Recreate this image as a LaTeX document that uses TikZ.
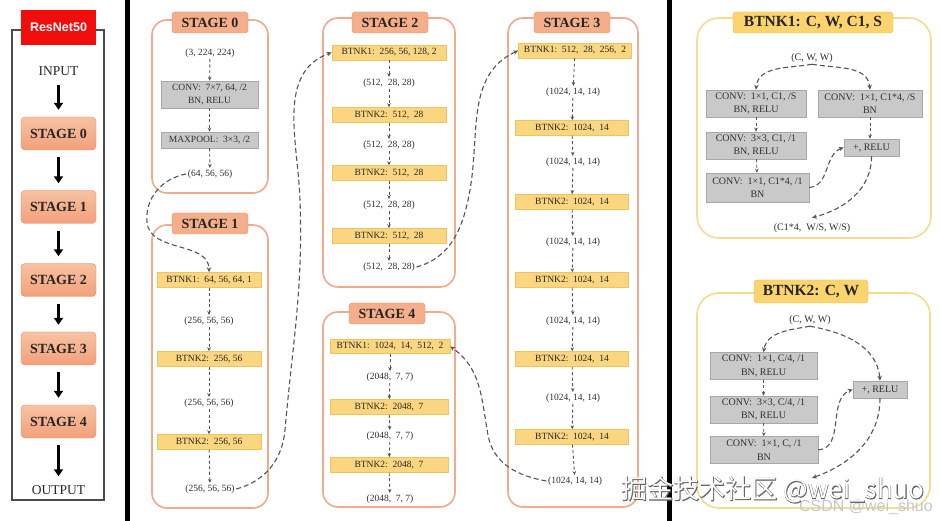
\documentclass[tikz,border=0pt]{standalone}
\usepackage{fontspec}
\setmainfont{Liberation Serif}
\newfontfamily\sansf{Liberation Sans}
\newfontfamily\cjkf{Noto Sans CJK SC}
\newfontfamily\cjkfb[FakeBold=3]{Noto Sans CJK SC}
\usetikzlibrary{arrows.meta}
\definecolor{txt}{HTML}{303030}
\definecolor{gf}{HTML}{C9C9C9}
\definecolor{gb}{HTML}{A8A8A8}
\definecolor{yf}{HTML}{FBD680}
\definecolor{yb}{HTML}{EFC35E}
\definecolor{spc}{HTML}{F2AA8C}
\definecolor{stf}{HTML}{F4AE8A}
\definecolor{stb}{HTML}{E0906E}
\definecolor{bpc}{HTML}{F6DA8E}
\definecolor{btf}{HTML}{FCD46E}
\definecolor{btb}{HTML}{EFBE4E}
\definecolor{con}{HTML}{555555}
\definecolor{lsf}{HTML}{F8C2A2}
\definecolor{lsb}{HTML}{F2A07A}
\definecolor{rnred}{HTML}{F20D0D}
\begin{document}
\begin{tikzpicture}[x=1pt,y=-1pt,
  frame/.style={draw=black!70, line width=1.3pt},
  redtitle/.style={fill=rnred, text=white, font=\sansf\bfseries\fontsize{12.5}{12.5}\selectfont, minimum width=75pt, minimum height=35pt, inner sep=0pt},
  io/.style={font=\fontsize{13.5}{13.5}\selectfont, text=black!85, inner sep=2pt},
  lstage/.style={rounded corners=4pt, top color=lsf, bottom color=lsb, draw=lsb!90!black, line width=0.4pt, minimum width=75pt, minimum height=33pt, font=\bfseries\fontsize{14}{14}\selectfont, text=black!85, inner sep=0pt},
  bigarrow/.style={line width=3pt, black, -{Triangle[length=7pt,width=9pt]}, shorten <=7pt, shorten >=7pt},
  sep/.style={line width=4.5pt, black},
  spanel/.style={draw=spc, line width=1.6pt, rounded corners=15pt},
  stitle/.style={draw=stb, fill=stf, rounded corners=3pt, minimum width=76pt, minimum height=21pt, font=\bfseries\fontsize{14}{14}\selectfont, text=black!85, inner sep=0pt},
  sm/.style={font=\fontsize{9.5}{12}\selectfont, text=txt, inner sep=1.5pt},
  ybox/.style={draw=yb, fill=yf, line width=0.5pt, minimum height=15pt, inner sep=0pt, font=\fontsize{9.5}{12}\selectfont, text=black!85},
  gbox/.style={draw=gb, fill=gf, line width=0.5pt, inner sep=0pt, align=center, font=\fontsize{9.5}{13}\selectfont, text=txt},
  bpanel/.style={draw=bpc, line width=1.6pt, rounded corners=22pt},
  btitle/.style={draw=btb, fill=btf, rounded corners=3pt, minimum height=21pt, font=\bfseries\fontsize{15.5}{15.5}\selectfont, text=black!85, inner sep=0pt},
  md/.style={font=\fontsize{10}{12}\selectfont, text=txt, inner sep=1.5pt},
  gbox2/.style={draw=gb, fill=gf, line width=0.5pt, inner sep=0pt, align=center, minimum height=27pt, font=\fontsize{10}{13.5}\selectfont, text=txt},
  sarrow/.style={con, line width=0.9pt, dash pattern=on 3pt off 2.5pt, -{Stealth[length=4pt,width=3.5pt]}},
  larrow/.style={con, line width=1.1pt, dash pattern=on 5pt off 3pt, -{Stealth[length=5pt,width=4.5pt]}}
]
\useasboundingbox[fill=white] (0,0) rectangle (940,521);

% ---------------- left overview ----------------
\draw[frame] (12,30) rectangle (104,500);
\node[redtitle] (rn) at (58.5,27.5) {ResNet50};
\node[io] (inp) at (58.5,71) {INPUT};
\node[lstage] (l0) at (58.5,133.5) {STAGE 0};
\node[lstage] (l1) at (58.5,207) {STAGE 1};
\node[lstage] (l2) at (58.5,280) {STAGE 2};
\node[lstage] (l3) at (58.5,348.5) {STAGE 3};
\node[lstage] (l4) at (58.5,421.5) {STAGE 4};
\node[io] (outp) at (58.5,490) {OUTPUT};
\foreach \a/\b in {inp/l0,l0/l1,l1/l2,l2/l3,l3/l4,l4/outp} \draw[bigarrow] (\a) -- (\b);

\draw[sep] (127.5,0) -- (127.5,521);
\draw[sep] (669.5,0) -- (669.5,521);

% ---------------- stage 0 ----------------
\draw[spanel] (152,20) rectangle (268,193);
\node[stitle] (s0t) at (210,22.5) {STAGE 0};
\node[sm] (s0a) at (210,53) {(3, 224, 224)};
\node[gbox, minimum width=97pt, minimum height=27pt] (s0b) at (209.5,94.5) {CONV:~~7×7, 64, /2\\BN, RELU};
\node[gbox, minimum width=97pt, minimum height=16pt] (s0c) at (209.5,140) {MAXPOOL:~~3×3, /2};
\node[sm] (s0d) at (210,174) {(64, 56, 56)};
\foreach \a/\b in {s0a/s0b,s0b/s0c,s0c/s0d} \draw[sarrow] (\a) -- (\b);

% ---------------- stage 1 ----------------
\draw[spanel] (152,225) rectangle (268,508);
\node[stitle] (s1t) at (210,223.5) {STAGE 1};
\node[ybox, minimum width=104pt] (s1a) at (209,280) {BTNK1:~~64, 56, 64, 1};
\node[sm] (s1b) at (209,321) {(256, 56, 56)};
\node[ybox, minimum width=104pt] (s1c) at (209,359) {BTNK2:~~256, 56};
\node[sm] (s1d) at (209,403) {(256, 56, 56)};
\node[ybox, minimum width=104pt] (s1e) at (209,442) {BTNK2:~~256, 56};
\node[sm] (s1f) at (210,489) {(256, 56, 56)};
\foreach \a/\b in {s1a/s1b,s1b/s1c,s1c/s1d,s1d/s1e,s1e/s1f} \draw[sarrow] (\a) -- (\b);

% ---------------- stage 2 ----------------
\draw[spanel] (323,18) rectangle (455,287);
\node[stitle] (s2t) at (390,22.5) {STAGE 2};
\node[ybox, minimum width=114pt] (s2a) at (389,52.5) {BTNK1:~~256, 56, 128, 2};
\node[sm] (s2b) at (389,83) {(512,~~28, 28)};
\node[ybox, minimum width=114pt] (s2c) at (389,115) {BTNK2:~~512,~~28};
\node[sm] (s2d) at (389,145) {(512,~~28, 28)};
\node[ybox, minimum width=114pt] (s2e) at (389,173) {BTNK2:~~512,~~28};
\node[sm] (s2f) at (389,205) {(512,~~28, 28)};
\node[ybox, minimum width=114pt] (s2g) at (389,236) {BTNK2:~~512,~~28};
\node[sm] (s2h) at (389,267) {(512,~~28, 28)};
\foreach \a/\b in {s2a/s2b,s2b/s2c,s2c/s2d,s2d/s2e,s2e/s2f,s2f/s2g,s2g/s2h} \draw[sarrow] (\a) -- (\b);

% ---------------- stage 4 ----------------
\draw[spanel] (323,312) rectangle (455,507);
\node[stitle] (s4t) at (387,313.5) {STAGE 4};
\node[ybox, minimum width=120pt, minimum height=14pt] (s4a) at (390,346.5) {BTNK1:~~1024,~~14,~~512,~~2};
\node[sm] (s4b) at (390,377) {(2048,~~7, 7)};
\node[ybox, minimum width=118pt] (s4c) at (389,407) {BTNK2:~~2048,~~7};
\node[sm] (s4d) at (390,436) {(2048,~~7, 7)};
\node[ybox, minimum width=118pt] (s4e) at (389,465) {BTNK2:~~2048,~~7};
\node[sm] (s4f) at (390,499) {(2048,~~7, 7)};
\foreach \a/\b in {s4a/s4b,s4b/s4c,s4c/s4d,s4d/s4e,s4e/s4f} \draw[sarrow] (\a) -- (\b);

% ---------------- stage 3 ----------------
\draw[spanel] (508,18) rectangle (638,507);
\node[stitle] (s3t) at (572,22.5) {STAGE 3};
\node[ybox, minimum width=113pt] (s3a) at (575,50.5) {BTNK1:~~512,~~28,~~256,~~2};
\node[sm] (s3b) at (573,92) {(1024, 14, 14)};
\node[ybox, minimum width=113pt] (s3c) at (572,128) {BTNK2:~~1024,~~14};
\node[sm] (s3d) at (573,162) {(1024, 14, 14)};
\node[ybox, minimum width=113pt] (s3e) at (572,202) {BTNK2:~~1024,~~14};
\node[sm] (s3f) at (573,242) {(1024, 14, 14)};
\node[ybox, minimum width=113pt] (s3g) at (572,280) {BTNK2:~~1024,~~14};
\node[sm] (s3h) at (573,321) {(1024, 14, 14)};
\node[ybox, minimum width=113pt] (s3i) at (572,359) {BTNK2:~~1024,~~14};
\node[sm] (s3j) at (573,398) {(1024, 14, 14)};
\node[ybox, minimum width=113pt] (s3k) at (572,437) {BTNK2:~~1024,~~14};
\node[sm] (s3l) at (575,481) {(1024, 14, 14)};
\foreach \a/\b in {s3a/s3b,s3b/s3c,s3c/s3d,s3d/s3e,s3e/s3f,s3f/s3g,s3g/s3h,s3h/s3i,s3i/s3j,s3j/s3k,s3k/s3l} \draw[sarrow] (\a) -- (\b);

% ---------------- inter-stage connectors ----------------
\draw[larrow] (s0d.west) to[out=190,in=95] (147,222) to[out=-85,in=90] (s1a.north);
\draw[larrow] (s1f.east) to[out=15,in=-95] (285,430) to[out=85,in=-88] (300,200) to[out=92,in=200] (s2a.west);
\draw[larrow] (s2h.east) to[out=15,in=-100] (470,190) to[out=80,in=205] (s3a.west);
\draw[larrow] (s3l.west) to[out=170,in=-80] (488,435) to[out=100,in=-35] (s4a.east);

% ---------------- BTNK1 ----------------
\draw[bpanel] (697,18) rectangle (931,238);
\node[btitle, minimum width=160pt] (b1t) at (813,22.5) {BTNK1: C, W, C1, S};
\node[md] (b1in) at (812,58) {(C, W, W)};
\node[gbox2, minimum width=100pt] (b1a) at (756,103.5) {CONV:~~1×1, C1, /S\\BN, RELU};
\node[gbox2, minimum width=104pt] (b1b) at (870,103.5) {CONV:~~1×1, C1*4, /S\\BN};
\node[gbox2, minimum width=100pt] (b1c) at (756,145.5) {CONV:~~3×3, C1, /1\\BN, RELU};
\node[gbox2, minimum width=103pt, minimum height=29pt] (b1d) at (757.5,187.5) {CONV:~~1×1, C1*4, /1\\BN};
\node[gbox2, minimum width=55pt, minimum height=17pt] (b1e) at (871.5,147.5) {+, RELU};
\node[md] (b1out) at (812,228) {(C1*4,~~W/S, W/S)};
\draw[larrow] (b1in.south) to[out=190,in=85] (b1a.north);
\draw[larrow] (b1in.south) to[out=-10,in=95] (b1b.north);
\draw[sarrow] (b1a) -- (b1c);
\draw[sarrow] (b1c) -- (b1d);
\draw[sarrow] (b1b.south) -- (b1b.south |- b1e.north);
\draw[larrow] (b1d.east) to[out=5,in=200] (b1e.west);
\draw[larrow] (b1e.south) to[out=-90,in=15] ([yshift=4pt]b1out.north);

% ---------------- BTNK2 ----------------
\draw[bpanel] (697,293) rectangle (930,508);
\node[btitle, minimum width=114pt, minimum height=23pt] (b2t) at (811,291.5) {BTNK2: C, W};
\node[md] (b2in) at (810,320) {(C, W, W)};
\node[gbox2, minimum width=107pt] (b2a) at (763.5,366) {CONV:~~1×1, C/4, /1\\BN, RELU};
\node[gbox2, minimum width=107pt] (b2c) at (763.5,409.5) {CONV:~~3×3, C/4, /1\\BN, RELU};
\node[gbox2, minimum width=108pt] (b2d) at (764,450) {CONV:~~1×1, C, /1\\BN};
\node[gbox2, minimum width=54pt, minimum height=17pt] (b2e) at (880,389.5) {+, RELU};
\coordinate (b2out) at (812,478);
\draw[larrow] (b2in.south) to[out=190,in=80] (b2a.north);
\draw[larrow] (b2in.south) to[out=-10,in=95] (b2e.north);
\draw[sarrow] (b2a) -- (b2c);
\draw[sarrow] (b2c) -- (b2d);
\draw[larrow] (b2d.east) to[out=5,in=200] (b2e.west);
\draw[larrow] (b2e.south) to[out=-90,in=20] (b2out);

% ---------------- watermark ----------------
\node[font=\sansf\fontsize{16}{16}\selectfont, text=black!22, inner sep=0pt] (wm0) at (866,507) {CSDN @wei\_shuo};
\node[font=\cjkfb\fontsize{26}{26}\selectfont, text=black!60, inner sep=0pt] (wm1) at (773,490) {掘金技术社区 @wei\_shuo};
\node[font=\cjkf\fontsize{26}{26}\selectfont, text=white, inner sep=0pt] (wm2) at (773,490) {掘金技术社区 @wei\_shuo};
\end{tikzpicture}
\end{document}
